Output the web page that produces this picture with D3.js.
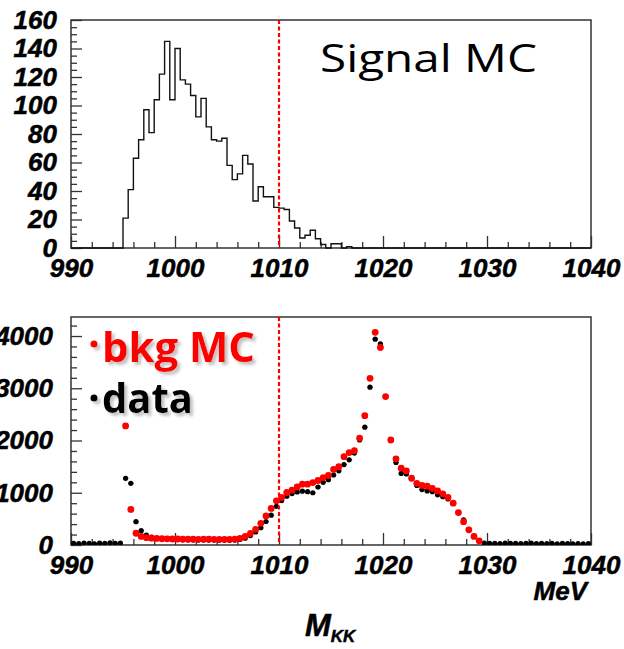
<!DOCTYPE html>
<html>
<head>
<meta charset="utf-8">
<script src="https://cdn.jsdelivr.net/npm/d3@7"></script>
<style>
  body { margin: 0; background: #fff; }
  .tick text { font-family: "Liberation Sans", Arial, sans-serif; font-weight: bold; font-style: italic; font-size: 26px; fill: #000; stroke: #000; stroke-width: 0.5px; }
  .tick line { stroke: #333; stroke-width: 1.3; }
</style>
</head>
<body>
<div id="chart"></div>
<script>
const w = 624
const h = 649

// signal MC histogram, 0.5 MeV bins starting at 995 MeV
const sigStart = 995
const binW = 0.5
const sigCounts = [21, 41, 63, 76, 97, 81, 104, 122, 145, 104,
  140, 118, 115, 107, 92, 105, 85, 76, 75, 77,
  58, 48, 52, 65, 59, 33, 43, 36, 36, 28.5,
  28, 27, 19, 14, 7, 9, 12.5, 6.5, 2.5, 0,
  3, 3, 0, 1]

// bottom panel: 100 bins of 0.5 MeV from 990 to 1040
const massCenters = d3.range(990.25, 1040, 0.5)
const dataCounts = [30, 25, 35, 30, 20, 35, 30, 40, 30, 35,
  1276, 1180, 446, 275, 190, 150, 125, 115, 110, 105,
  105, 100, 100, 98, 95, 98, 95, 95, 92, 95,
  90, 95, 105, 130, 180, 250, 330, 450, 570, 740,
  850, 935, 985, 1015, 1030, 1020, 1000, 1110, 1200, 1250,
  1340, 1420, 1540, 1630, 1760, 2010, 2255, 3020, 3940, 3850,
  2840, 2000, 1580, 1370, 1360, 1270, 1140, 1060, 1035, 1020,
  960, 925, 880, 800, 620, 480, 300, 170, 80, 35,
  30, 30, 25, 35, 30, 30, 25, 30, 35, 25,
  30, 25, 30, 20, 30, 25, 20, 25, 20, 25]
const bkgCounts = [null, null, null, null, null, null, null, null, null, null,
  2280, 680, 225, 165, 140, 130, 125, 120, 118, 115,
  115, 112, 110, 110, 108, 110, 110, 108, 108, 105,
  108, 112, 128, 165, 220, 300, 415, 555, 700, 845,
  910, 1005, 1050, 1110, 1165, 1165, 1195, 1235, 1290, 1330,
  1445, 1500, 1690, 1770, 1805, 2045, 2475, 3190, 4070, 3780,
  2840, 2010, 1650, 1470, 1420, 1280, 1180, 1140, 1125, 1085,
  1035, 980, 910, 800, 620, 447, 290, 165, 80, null,
  null, null, null, null, null, null, null, null, null, null,
  null, null, null, null, null, null, null, null, null, null]

const xTicks = [990, 1000, 1010, 1020, 1030, 1040]
const sigYTicks = [0, 20, 40, 60, 80, 100, 120, 140, 160]
const bkgYTicks = [0, 1000, 2000, 3000, 4000]
const cutMass = 1010

const left = 71, right = 591
const top1 = 20, bot1 = 248
const top2 = 317, bot2 = 545

const svg = d3.select('#chart')
  .append('svg')
  .attr('width', w)
  .attr('height', h)

const defs = svg.append('defs')
const shadow = defs.append('filter').attr('id', 'shadow')
  .attr('x', '-10%').attr('y', '-10%').attr('width', '130%').attr('height', '140%')
shadow.append('feDropShadow')
  .attr('dx', 3).attr('dy', 3).attr('stdDeviation', 1.5)
  .attr('flood-color', '#999').attr('flood-opacity', 0.6)
defs.append('clipPath').attr('id', 'clip2')
  .append('rect').attr('x', left).attr('y', top2).attr('width', right - left).attr('height', bot2 - top2)

const xScale = d3.scaleLinear().domain([990, 1040]).range([left, right])
const ySig = d3.scaleLinear().domain([0, 160]).range([bot1, top1])
const yBkg = d3.scaleLinear().domain([0, 4364]).range([bot2, top2])

const xMinor = d3.range(990, 1041, 2).filter(d => d % 10 !== 0)

function drawAxes(yScale, yTicks, yMinor, bottom, labelPad) {
  svg.append('g')
    .attr('transform', `translate(0, ${bottom})`)
    .call(d3.axisBottom(xScale).tickValues(xMinor).tickSize(-6).tickFormat(''))
    .call(g => g.select('.domain').remove())
  svg.append('g')
    .attr('transform', `translate(0, ${bottom})`)
    .call(d3.axisBottom(xScale).tickValues(xTicks).tickSize(-12).tickPadding(11).tickFormat(d3.format('d')))
    .call(g => g.select('.domain').remove())
  svg.append('g')
    .attr('transform', `translate(${left}, 0)`)
    .call(d3.axisLeft(yScale).tickValues(yMinor).tickSize(-6).tickFormat(''))
    .call(g => g.select('.domain').remove())
  svg.append('g')
    .attr('transform', `translate(${left}, 0)`)
    .call(d3.axisLeft(yScale).tickValues(yTicks).tickSize(-11).tickPadding(labelPad).tickFormat(d3.format('d')))
    .call(g => g.select('.domain').remove())
  svg.append('rect')
    .attr('x', left).attr('y', yScale.range()[1])
    .attr('width', right - left).attr('height', bottom - yScale.range()[1])
    .attr('fill', 'none').attr('stroke', '#333').attr('stroke-width', 1.5)
}

// ---- top panel: signal MC ----
drawAxes(ySig, sigYTicks, d3.range(0, 161, 5).filter(d => d % 20 !== 0), bot1, 14)

const sigSteps = [{ m: 990, v: 0 }]
  .concat(sigCounts.map((v, i) => ({ m: sigStart + i * binW, v: v })))
  .concat([{ m: sigStart + sigCounts.length * binW, v: 0 }, { m: 1040, v: 0 }])

svg.append('path')
  .datum(sigSteps)
  .attr('d', d3.line().x(d => xScale(d.m)).y(d => ySig(d.v)).curve(d3.curveStepAfter))
  .attr('fill', 'none')
  .attr('stroke', '#111')
  .attr('stroke-width', 1.4)

svg.append('line')
  .attr('x1', xScale(cutMass)).attr('x2', xScale(cutMass))
  .attr('y1', top1).attr('y2', bot1)
  .attr('stroke', '#f00').attr('stroke-width', 2.2).attr('stroke-dasharray', '4,2.5')

svg.append('text')
  .attr('x', 320).attr('y', 72)
  .attr('textLength', 217)
  .attr('lengthAdjust', 'spacingAndGlyphs')
  .style('font-family', '"Comic Sans MS", "Open Sans", sans-serif')
  .style('font-size', '39px')
  .text('Signal MC')

// ---- bottom panel: bkg MC and data ----
drawAxes(yBkg, bkgYTicks, d3.range(0, 4364, 200).filter(d => d % 1000 !== 0), bot2, 18)

const pts = svg.append('g').attr('clip-path', 'url(#clip2)')

const dataPts = massCenters.map((m, i) => ({ m: m, v: dataCounts[i] }))
const bkgPts = massCenters.map((m, i) => ({ m: m, v: bkgCounts[i] })).filter(d => d.v !== null)

pts.selectAll('line.err')
  .data(dataPts)
  .enter()
  .append('line')
  .attr('class', 'err')
  .attr('x1', d => xScale(d.m - binW / 2))
  .attr('x2', d => xScale(d.m + binW / 2))
  .attr('y1', d => yBkg(d.v))
  .attr('y2', d => yBkg(d.v))
  .attr('stroke', '#000')
  .attr('stroke-width', 1)

pts.selectAll('circle.data')
  .data(dataPts)
  .enter()
  .append('circle')
  .attr('class', 'data')
  .attr('cx', d => xScale(d.m))
  .attr('cy', d => yBkg(d.v))
  .attr('r', 2.6)
  .attr('fill', '#000')

pts.selectAll('circle.bkg')
  .data(bkgPts)
  .enter()
  .append('circle')
  .attr('class', 'bkg')
  .attr('cx', d => xScale(d.m))
  .attr('cy', d => yBkg(d.v))
  .attr('r', 3.4)
  .attr('fill', '#f00')

svg.append('line')
  .attr('x1', xScale(cutMass)).attr('x2', xScale(cutMass))
  .attr('y1', top2).attr('y2', bot2)
  .attr('stroke', '#f00').attr('stroke-width', 2.2).attr('stroke-dasharray', '4,2.5')

// legend
const legend = svg.append('g')
  .attr('filter', 'url(#shadow)')
  .style('font-family', '"Comic Sans MS", "Open Sans", sans-serif')
  .style('font-weight', 'bold')
  .style('font-size', '41px')

legend.append('circle').attr('cx', 94).attr('cy', 344).attr('r', 3.5).attr('fill', '#f00')
legend.append('text').attr('x', 102).attr('y', 362).attr('textLength', 153)
  .attr('lengthAdjust', 'spacingAndGlyphs')
  .attr('fill', '#f00').text('bkg MC')
legend.append('circle').attr('cx', 94).attr('cy', 398).attr('r', 3.5).attr('fill', '#000')
legend.append('text').attr('x', 102).attr('y', 413).attr('textLength', 91)
  .attr('lengthAdjust', 'spacingAndGlyphs')
  .attr('fill', '#000').text('data')

// axis titles
svg.append('text')
  .attr('x', 587).attr('y', 600)
  .attr('text-anchor', 'end')
  .style('font-family', '"Liberation Sans", Arial, sans-serif')
  .style('font-weight', 'bold').style('font-style', 'italic')
  .style('font-size', '26px')
  .style('stroke', '#000').style('stroke-width', '0.5px')
  .text('MeV')

const title = svg.append('text')
  .attr('x', 305).attr('y', 636)
  .style('font-family', '"Liberation Sans", Arial, sans-serif')
  .style('font-weight', 'bold').style('font-style', 'italic')
  .style('stroke', '#000').style('stroke-width', '0.5px')
title.append('tspan').style('font-size', '31px').text('M')
title.append('tspan').attr('dy', 6).style('font-size', '17px').text('KK')
</script>
</body>
</html>
